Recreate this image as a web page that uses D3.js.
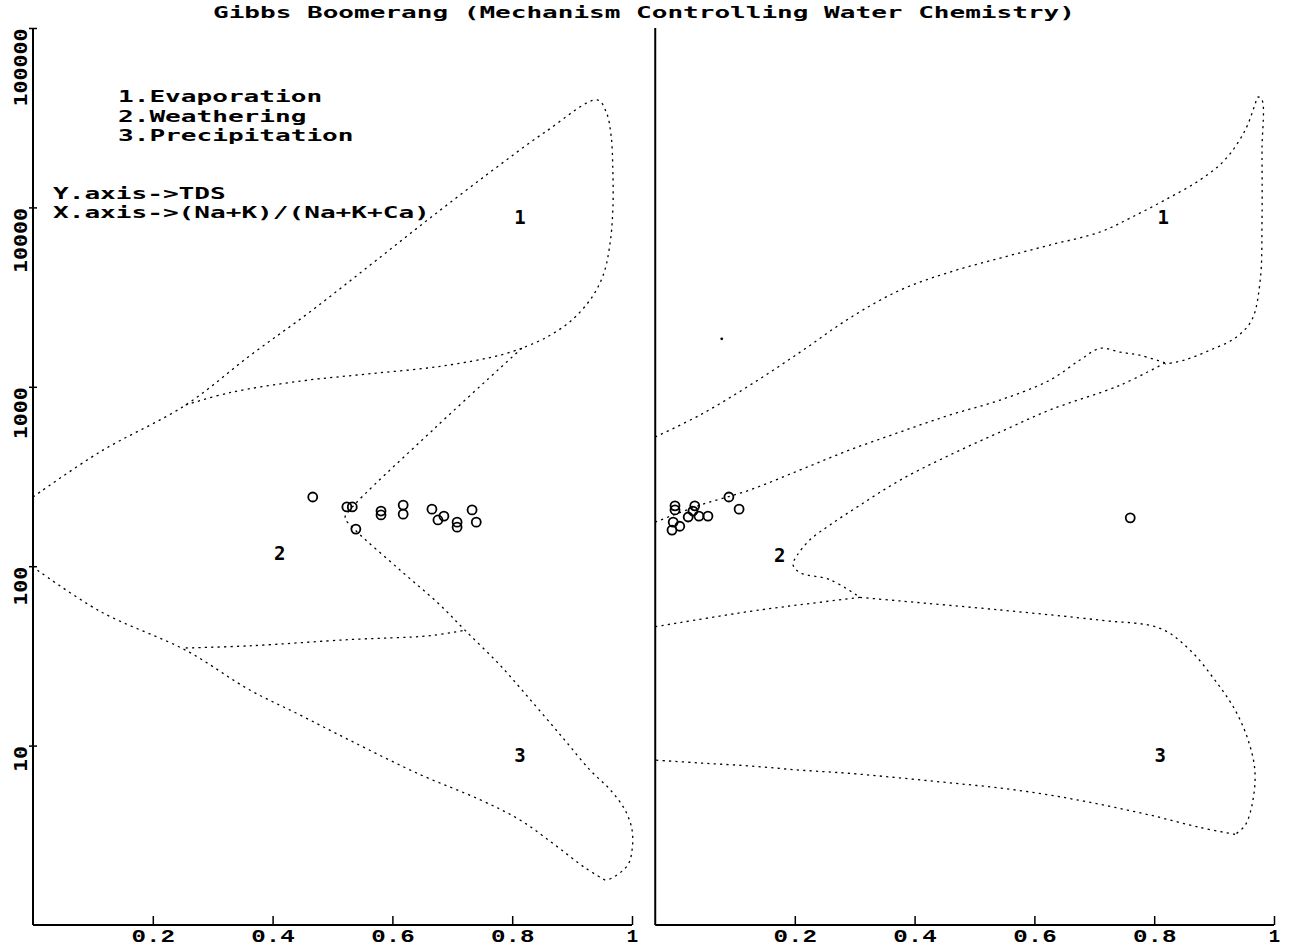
<!DOCTYPE html>
<html>
<head>
<meta charset="utf-8">
<script src="https://cdn.jsdelivr.net/npm/d3@7"></script>
<style>
  html, body { margin: 0; padding: 0; background: #fff; }
  svg { display: block; }
</style>
</head>
<body>
<svg id="chart" width="1299" height="952"></svg>
<script>
// ---------------- DATA ----------------
const titleText = "Gibbs Boomerang (Mechanism Controlling Water Chemistry)";
const legendLines = ["1.Evaporation", "2.Weathering", "3.Precipitation"];
const axisNotes = ["Y.axis->TDS", "X.axis->(Na+K)/(Na+K+Ca)"];
const xTicks = [0.2, 0.4, 0.6, 0.8, 1];
const xTickLabels = ["0.2", "0.4", "0.6", "0.8", "1"];
const yTicks = [10, 100, 1000, 10000, 100000];
const yTickLabels = ["10", "100", "1000", "10000", "100000"];
const zoneLabels = ["1", "2", "3"];

// Left panel: (Na+K)/(Na+K+Ca) vs TDS boundary curves [ratio, TDS]
const leftEvapOuter = [[0,243],[0.112,434],[0.255,792],[0.362,1490],[0.462,2610],[0.563,4770],[0.663,8730],[0.763,15700],[0.855,26300],[0.942,39700],[0.957,34000],[0.965,25300],[0.968,16200],[0.968,9670],[0.963,6170],[0.952,4200],[0.930,3050],[0.896,2300],[0.855,1870],[0.816,1640]];
const leftSep12 = [[0.255,792],[0.330,930],[0.450,1080],[0.560,1180],[0.680,1300],[0.780,1500],[0.816,1640]];
const leftNoseRight = [[0.816,1640],[0.671,589],[0.529,206],[0.521,186],[0.538,159],[0.613,95],[0.679,61],[0.721,44],[0.780,28],[0.838,16.8],[0.888,10.7],[0.930,7.3],[0.963,5.7],[0.988,4.4],[1.0,3.4],[1.0,2.6],[0.993,2.16],[0.967,1.83],[0.955,1.78]];
const leftLowerOuter = [[0.955,1.78],[0.922,2.08],[0.871,2.8],[0.813,3.85],[0.746,5.0],[0.646,6.9],[0.529,10.7],[0.446,14.8],[0.362,20.4],[0.255,34],[0.112,56],[0,99]];
const leftSep23 = [[0.255,35],[0.362,36],[0.529,39],[0.663,41],[0.721,44]];

// Left panel samples [ratio, TDS]
const leftSamples = [[0.467,243],[0.524,214],[0.533,214],[0.539,161],[0.581,203],[0.581,193],[0.618,219],[0.618,195],[0.666,208],[0.676,181],[0.686,190],[0.708,176],[0.708,165],[0.733,206],[0.740,176]];

// Right panel boundary curves [ratio, TDS]
const rightEvapOuter = [[-0.033,525],[0.042,697],[0.125,1020],[0.209,1560],[0.292,2420],[0.376,3460],[0.459,4360],[0.543,5220],[0.626,6170],[0.710,7300],[0.760,8730],[0.818,11000],[0.876,14200],[0.918,18400],[0.952,27000],[0.968,37200],[0.973,41200],[0.980,39700],[0.980,20900],[0.980,8510],[0.977,3940],[0.963,2360],[0.935,1870],[0.893,1600],[0.851,1410],[0.818,1340]];
const rightSep12 = [[-0.033,176],[0.042,219],[0.125,266],[0.209,344],[0.292,445],[0.376,560],[0.459,697],[0.543,844],[0.626,1090],[0.676,1410],[0.710,1640],[0.743,1560],[0.776,1500],[0.818,1360]];
const rightNose = [[0.818,1360],[0.743,1020],[0.626,743],[0.543,560],[0.459,417],[0.376,302],[0.309,219],[0.259,170],[0.225,140],[0.204,115],[0.197,102],[0.209,92],[0.259,84],[0.309,67]];
const rightPrecipOuter = [[0.309,67],[0.376,64],[0.543,57],[0.710,50],[0.810,45],[0.860,34],[0.902,23],[0.935,15.8],[0.957,10.7],[0.968,7.3],[0.965,5.0],[0.952,3.6],[0.935,3.2]];
const rightLowerOuter = [[0.935,3.2],[0.876,3.5],[0.793,4.1],[0.710,4.7],[0.626,5.3],[0.543,5.8],[0.459,6.2],[0.376,6.6],[0.292,7.0],[0.209,7.3],[0.125,7.7],[0.042,8.0],[-0.033,8.3]];
const rightSep23 = [[-0.033,46],[0.125,56],[0.209,61],[0.309,67]];

// Right panel samples [ratio, TDS]
const rightSamples = [[0.0,217],[0.0,206],[0.033,217],[0.030,203],[0.022,188],[0.040,190],[0.055,190],[-0.003,176],[0.008,167],[-0.005,159],[0.090,243],[0.107,208],[0.760,186]];
const rightDot = [[0.078,1850]];

// Zone label anchors [ratio, TDS]
const leftZonePos = [[0.813,8840],[0.412,118],[0.813,8.9]];
const rightZonePos = [[0.815,8840],[0.175,115],[0.810,8.9]];

// ---------------- SCALES ----------------
const svg = d3.select("#chart");
const yTop = 28, yBottom = 925;
const y = d3.scaleLog().domain([1, 100000]).range([yBottom, yTop]);
const xL = d3.scaleLinear().domain([0, 1]).range([33, 632]);
const xR = d3.scaleLinear().domain([0, 1]).range([675, 1274]);
const rightAxisStart = -0.033;

const dosFont = "'DejaVu Sans Mono', monospace";
const tickFont = "'Liberation Mono', 'DejaVu Sans Mono', monospace";

// ---------------- TITLE / NOTES ----------------
svg.append("text")
  .attr("x", 213).attr("y", 18)
  .attr("font-family", dosFont).attr("font-weight", "bold").attr("font-size", 16)
  .attr("textLength", titleText.length * 15.67).attr("lengthAdjust", "spacingAndGlyphs")
  .text(titleText);

legendLines.forEach((t, i) => {
  svg.append("text")
    .attr("x", 118).attr("y", 102 + i * 19.5)
    .attr("font-family", dosFont).attr("font-weight", "bold").attr("font-size", 16)
    .attr("textLength", t.length * 15.7).attr("lengthAdjust", "spacingAndGlyphs")
    .text(t);
});
axisNotes.forEach((t, i) => {
  svg.append("text")
    .attr("x", 53).attr("y", 199 + i * 19)
    .attr("font-family", dosFont).attr("font-weight", "bold").attr("font-size", 16)
    .attr("textLength", t.length * 15.7).attr("lengthAdjust", "spacingAndGlyphs")
    .text(t);
});

// ---------------- AXES ----------------
function drawPanel(x, axisStartVal) {
  const x0 = x(axisStartVal);
  svg.append("line").attr("x1", x0).attr("x2", x0).attr("y1", yTop).attr("y2", yBottom)
    .attr("stroke", "#000").attr("stroke-width", 2);
  svg.append("line").attr("x1", x0).attr("x2", x(1)).attr("y1", yBottom).attr("y2", yBottom)
    .attr("stroke", "#000").attr("stroke-width", 2);
  const ax = d3.axisBottom(x).tickValues(xTicks).tickSize(-9).tickSizeOuter(0).tickPadding(4)
    .tickFormat((d, i) => xTickLabels[i]);
  const g = svg.append("g").attr("transform", `translate(0,${yBottom})`).call(ax);
  g.select(".domain").remove();
  g.selectAll(".tick line").attr("stroke", "#000").attr("stroke-width", 1.5);
  g.selectAll(".tick text")
    .attr("font-family", tickFont).attr("font-weight", "bold").attr("font-size", 19)
    .attr("fill", "#000")
    .each(function(d, i) {
      const n = xTickLabels[i].length;
      if (n > 1) d3.select(this).attr("textLength", n * 14.5).attr("lengthAdjust", "spacingAndGlyphs");
    });
}
drawPanel(xL, 0);
drawPanel(xR, rightAxisStart);

// Left y axis ticks + labels
const yAx = d3.axisLeft(y).tickValues(yTicks).tickSize(4).tickFormat((d, i) => yTickLabels[i]);
const gy = svg.append("g").attr("transform", `translate(${xL(0)},0)`).call(yAx);
gy.select(".domain").remove();
gy.selectAll(".tick line").attr("x1", 4).attr("stroke", "#000").attr("stroke-width", 1.5);
gy.selectAll(".tick text")
  .attr("x", 0).attr("dy", null).attr("y", 0)
  .attr("transform", "translate(-6,0) rotate(-90)")
  .attr("text-anchor", "end")
  .attr("font-family", dosFont).attr("font-weight", "bold").attr("font-size", 18)
  .attr("fill", "#000")
  .each(function(d, i) {
    d3.select(this).attr("textLength", yTickLabels[i].length * 13).attr("lengthAdjust", "spacingAndGlyphs");
  });

// ---------------- BOUNDARY CURVES ----------------
function drawCurve(data, x) {
  const line = d3.line().x(d => x(d[0])).y(d => y(d[1])).curve(d3.curveCatmullRom.alpha(0.5));
  svg.append("path").attr("d", line(data))
    .attr("fill", "none").attr("stroke", "#000").attr("stroke-width", 1.3)
    .attr("stroke-dasharray", "2.2,4.2");
}
[leftEvapOuter, leftSep12, leftNoseRight, leftLowerOuter, leftSep23].forEach(c => drawCurve(c, xL));
[rightEvapOuter, rightSep12, rightNose, rightPrecipOuter, rightLowerOuter, rightSep23].forEach(c => drawCurve(c, xR));

// ---------------- SAMPLES ----------------
function drawSamples(data, x) {
  svg.append("g").selectAll("circle").data(data).join("circle")
    .attr("cx", d => x(d[0])).attr("cy", d => y(d[1])).attr("r", 4.5)
    .attr("fill", "none").attr("stroke", "#000").attr("stroke-width", 1.8);
}
drawSamples(leftSamples, xL);
drawSamples(rightSamples, xR);
svg.append("g").selectAll("circle").data(rightDot).join("circle")
  .attr("cx", d => xR(d[0])).attr("cy", d => y(d[1])).attr("r", 1.4).attr("fill", "#000");

// ---------------- ZONE LABELS ----------------
function drawZones(pos, x) {
  pos.forEach((p, i) => {
    svg.append("text").attr("x", x(p[0])).attr("y", y(p[1]) + 7)
      .attr("text-anchor", "middle")
      .attr("font-family", dosFont).attr("font-weight", "bold").attr("font-size", 19)
      .text(zoneLabels[i]);
  });
}
drawZones(leftZonePos, xL);
drawZones(rightZonePos, xR);
</script>
</body>
</html>
